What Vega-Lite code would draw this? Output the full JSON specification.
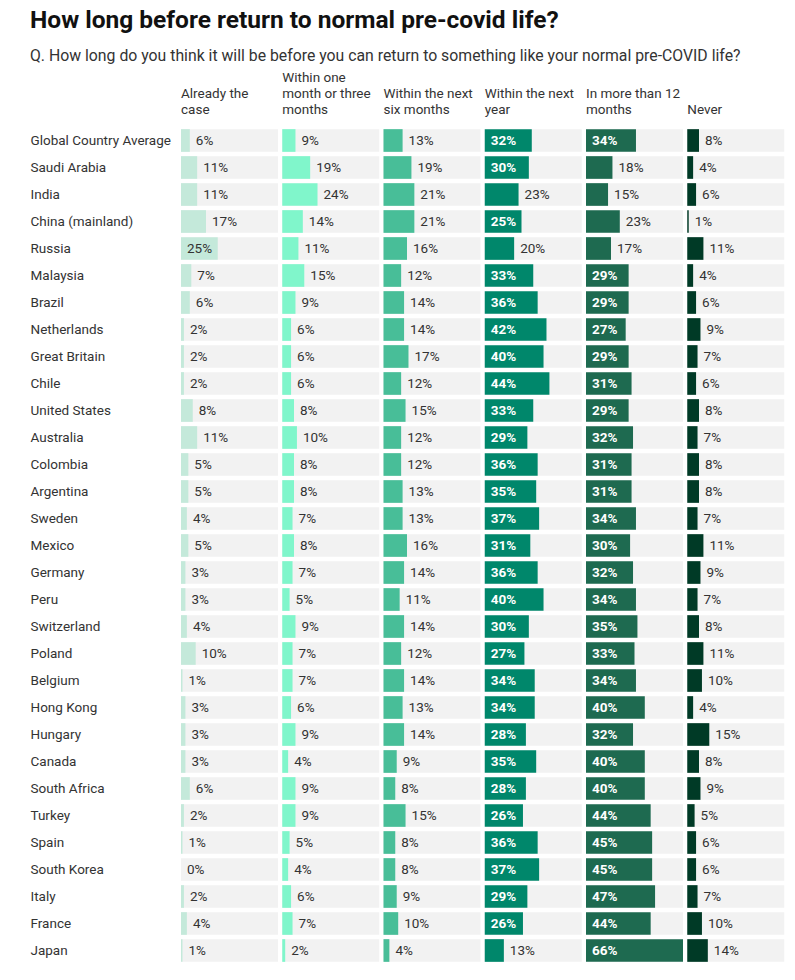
{
  "$schema": "https://vega.github.io/schema/vega-lite/v6.json",
  "padding": {"left": 30, "top": 8, "right": 8, "bottom": 4},
  "background": "white",
  "config": {"font": "Roboto", "view": {"stroke": null}},
  "title": {
    "text": "How long before return to normal pre-covid life?",
    "subtitle": "Q. How long do you think it will be before you can return to something like your normal pre-COVID life?",
    "anchor": "start",
    "fontSize": 24.5,
    "fontWeight": "bold",
    "color": "#111111",
    "subtitleFontSize": 15.8,
    "subtitleColor": "#333333",
    "subtitlePadding": 15,
    "offset": 6
  },
  "datasets": {
    "rows": [
      {"c":"Global Country Average","k":"Already the case","v":6},{"c":"Global Country Average","k":"Within one month or three months","v":9},{"c":"Global Country Average","k":"Within the next six months","v":13},{"c":"Global Country Average","k":"Within the next year","v":32},{"c":"Global Country Average","k":"In more than 12 months","v":34},{"c":"Global Country Average","k":"Never","v":8},
      {"c":"Saudi Arabia","k":"Already the case","v":11},{"c":"Saudi Arabia","k":"Within one month or three months","v":19},{"c":"Saudi Arabia","k":"Within the next six months","v":19},{"c":"Saudi Arabia","k":"Within the next year","v":30},{"c":"Saudi Arabia","k":"In more than 12 months","v":18},{"c":"Saudi Arabia","k":"Never","v":4},
      {"c":"India","k":"Already the case","v":11},{"c":"India","k":"Within one month or three months","v":24},{"c":"India","k":"Within the next six months","v":21},{"c":"India","k":"Within the next year","v":23},{"c":"India","k":"In more than 12 months","v":15},{"c":"India","k":"Never","v":6},
      {"c":"China (mainland)","k":"Already the case","v":17},{"c":"China (mainland)","k":"Within one month or three months","v":14},{"c":"China (mainland)","k":"Within the next six months","v":21},{"c":"China (mainland)","k":"Within the next year","v":25},{"c":"China (mainland)","k":"In more than 12 months","v":23},{"c":"China (mainland)","k":"Never","v":1},
      {"c":"Russia","k":"Already the case","v":25},{"c":"Russia","k":"Within one month or three months","v":11},{"c":"Russia","k":"Within the next six months","v":16},{"c":"Russia","k":"Within the next year","v":20},{"c":"Russia","k":"In more than 12 months","v":17},{"c":"Russia","k":"Never","v":11},
      {"c":"Malaysia","k":"Already the case","v":7},{"c":"Malaysia","k":"Within one month or three months","v":15},{"c":"Malaysia","k":"Within the next six months","v":12},{"c":"Malaysia","k":"Within the next year","v":33},{"c":"Malaysia","k":"In more than 12 months","v":29},{"c":"Malaysia","k":"Never","v":4},
      {"c":"Brazil","k":"Already the case","v":6},{"c":"Brazil","k":"Within one month or three months","v":9},{"c":"Brazil","k":"Within the next six months","v":14},{"c":"Brazil","k":"Within the next year","v":36},{"c":"Brazil","k":"In more than 12 months","v":29},{"c":"Brazil","k":"Never","v":6},
      {"c":"Netherlands","k":"Already the case","v":2},{"c":"Netherlands","k":"Within one month or three months","v":6},{"c":"Netherlands","k":"Within the next six months","v":14},{"c":"Netherlands","k":"Within the next year","v":42},{"c":"Netherlands","k":"In more than 12 months","v":27},{"c":"Netherlands","k":"Never","v":9},
      {"c":"Great Britain","k":"Already the case","v":2},{"c":"Great Britain","k":"Within one month or three months","v":6},{"c":"Great Britain","k":"Within the next six months","v":17},{"c":"Great Britain","k":"Within the next year","v":40},{"c":"Great Britain","k":"In more than 12 months","v":29},{"c":"Great Britain","k":"Never","v":7},
      {"c":"Chile","k":"Already the case","v":2},{"c":"Chile","k":"Within one month or three months","v":6},{"c":"Chile","k":"Within the next six months","v":12},{"c":"Chile","k":"Within the next year","v":44},{"c":"Chile","k":"In more than 12 months","v":31},{"c":"Chile","k":"Never","v":6},
      {"c":"United States","k":"Already the case","v":8},{"c":"United States","k":"Within one month or three months","v":8},{"c":"United States","k":"Within the next six months","v":15},{"c":"United States","k":"Within the next year","v":33},{"c":"United States","k":"In more than 12 months","v":29},{"c":"United States","k":"Never","v":8},
      {"c":"Australia","k":"Already the case","v":11},{"c":"Australia","k":"Within one month or three months","v":10},{"c":"Australia","k":"Within the next six months","v":12},{"c":"Australia","k":"Within the next year","v":29},{"c":"Australia","k":"In more than 12 months","v":32},{"c":"Australia","k":"Never","v":7},
      {"c":"Colombia","k":"Already the case","v":5},{"c":"Colombia","k":"Within one month or three months","v":8},{"c":"Colombia","k":"Within the next six months","v":12},{"c":"Colombia","k":"Within the next year","v":36},{"c":"Colombia","k":"In more than 12 months","v":31},{"c":"Colombia","k":"Never","v":8},
      {"c":"Argentina","k":"Already the case","v":5},{"c":"Argentina","k":"Within one month or three months","v":8},{"c":"Argentina","k":"Within the next six months","v":13},{"c":"Argentina","k":"Within the next year","v":35},{"c":"Argentina","k":"In more than 12 months","v":31},{"c":"Argentina","k":"Never","v":8},
      {"c":"Sweden","k":"Already the case","v":4},{"c":"Sweden","k":"Within one month or three months","v":7},{"c":"Sweden","k":"Within the next six months","v":13},{"c":"Sweden","k":"Within the next year","v":37},{"c":"Sweden","k":"In more than 12 months","v":34},{"c":"Sweden","k":"Never","v":7},
      {"c":"Mexico","k":"Already the case","v":5},{"c":"Mexico","k":"Within one month or three months","v":8},{"c":"Mexico","k":"Within the next six months","v":16},{"c":"Mexico","k":"Within the next year","v":31},{"c":"Mexico","k":"In more than 12 months","v":30},{"c":"Mexico","k":"Never","v":11},
      {"c":"Germany","k":"Already the case","v":3},{"c":"Germany","k":"Within one month or three months","v":7},{"c":"Germany","k":"Within the next six months","v":14},{"c":"Germany","k":"Within the next year","v":36},{"c":"Germany","k":"In more than 12 months","v":32},{"c":"Germany","k":"Never","v":9},
      {"c":"Peru","k":"Already the case","v":3},{"c":"Peru","k":"Within one month or three months","v":5},{"c":"Peru","k":"Within the next six months","v":11},{"c":"Peru","k":"Within the next year","v":40},{"c":"Peru","k":"In more than 12 months","v":34},{"c":"Peru","k":"Never","v":7},
      {"c":"Switzerland","k":"Already the case","v":4},{"c":"Switzerland","k":"Within one month or three months","v":9},{"c":"Switzerland","k":"Within the next six months","v":14},{"c":"Switzerland","k":"Within the next year","v":30},{"c":"Switzerland","k":"In more than 12 months","v":35},{"c":"Switzerland","k":"Never","v":8},
      {"c":"Poland","k":"Already the case","v":10},{"c":"Poland","k":"Within one month or three months","v":7},{"c":"Poland","k":"Within the next six months","v":12},{"c":"Poland","k":"Within the next year","v":27},{"c":"Poland","k":"In more than 12 months","v":33},{"c":"Poland","k":"Never","v":11},
      {"c":"Belgium","k":"Already the case","v":1},{"c":"Belgium","k":"Within one month or three months","v":7},{"c":"Belgium","k":"Within the next six months","v":14},{"c":"Belgium","k":"Within the next year","v":34},{"c":"Belgium","k":"In more than 12 months","v":34},{"c":"Belgium","k":"Never","v":10},
      {"c":"Hong Kong","k":"Already the case","v":3},{"c":"Hong Kong","k":"Within one month or three months","v":6},{"c":"Hong Kong","k":"Within the next six months","v":13},{"c":"Hong Kong","k":"Within the next year","v":34},{"c":"Hong Kong","k":"In more than 12 months","v":40},{"c":"Hong Kong","k":"Never","v":4},
      {"c":"Hungary","k":"Already the case","v":3},{"c":"Hungary","k":"Within one month or three months","v":9},{"c":"Hungary","k":"Within the next six months","v":14},{"c":"Hungary","k":"Within the next year","v":28},{"c":"Hungary","k":"In more than 12 months","v":32},{"c":"Hungary","k":"Never","v":15},
      {"c":"Canada","k":"Already the case","v":3},{"c":"Canada","k":"Within one month or three months","v":4},{"c":"Canada","k":"Within the next six months","v":9},{"c":"Canada","k":"Within the next year","v":35},{"c":"Canada","k":"In more than 12 months","v":40},{"c":"Canada","k":"Never","v":8},
      {"c":"South Africa","k":"Already the case","v":6},{"c":"South Africa","k":"Within one month or three months","v":9},{"c":"South Africa","k":"Within the next six months","v":8},{"c":"South Africa","k":"Within the next year","v":28},{"c":"South Africa","k":"In more than 12 months","v":40},{"c":"South Africa","k":"Never","v":9},
      {"c":"Turkey","k":"Already the case","v":2},{"c":"Turkey","k":"Within one month or three months","v":9},{"c":"Turkey","k":"Within the next six months","v":15},{"c":"Turkey","k":"Within the next year","v":26},{"c":"Turkey","k":"In more than 12 months","v":44},{"c":"Turkey","k":"Never","v":5},
      {"c":"Spain","k":"Already the case","v":1},{"c":"Spain","k":"Within one month or three months","v":5},{"c":"Spain","k":"Within the next six months","v":8},{"c":"Spain","k":"Within the next year","v":36},{"c":"Spain","k":"In more than 12 months","v":45},{"c":"Spain","k":"Never","v":6},
      {"c":"South Korea","k":"Already the case","v":0},{"c":"South Korea","k":"Within one month or three months","v":4},{"c":"South Korea","k":"Within the next six months","v":8},{"c":"South Korea","k":"Within the next year","v":37},{"c":"South Korea","k":"In more than 12 months","v":45},{"c":"South Korea","k":"Never","v":6},
      {"c":"Italy","k":"Already the case","v":2},{"c":"Italy","k":"Within one month or three months","v":6},{"c":"Italy","k":"Within the next six months","v":9},{"c":"Italy","k":"Within the next year","v":29},{"c":"Italy","k":"In more than 12 months","v":47},{"c":"Italy","k":"Never","v":7},
      {"c":"France","k":"Already the case","v":4},{"c":"France","k":"Within one month or three months","v":7},{"c":"France","k":"Within the next six months","v":10},{"c":"France","k":"Within the next year","v":26},{"c":"France","k":"In more than 12 months","v":44},{"c":"France","k":"Never","v":10},
      {"c":"Japan","k":"Already the case","v":1},{"c":"Japan","k":"Within one month or three months","v":2},{"c":"Japan","k":"Within the next six months","v":4},{"c":"Japan","k":"Within the next year","v":13},{"c":"Japan","k":"In more than 12 months","v":66},{"c":"Japan","k":"Never","v":14}
    ]
  },
  "data": {"name": "rows"},
  "transform": [{"calculate": "datum.v + '%'", "as": "label"}],
  "spacing": 4.25,
  "facet": {
    "column": {
      "field": "k",
      "type": "nominal",
      "title": null,
      "sort": ["Already the case", "Within one month or three months", "Within the next six months", "Within the next year", "In more than 12 months", "Never"],
      "header": {
        "labelExpr": "datum.value == 'Already the case' ? ['Already the', 'case'] : datum.value == 'Within one month or three months' ? ['Within one', 'month or three', 'months'] : datum.value == 'Within the next six months' ? ['Within the next', 'six months'] : datum.value == 'Within the next year' ? ['Within the next', 'year'] : datum.value == 'In more than 12 months' ? ['In more than 12', 'months'] : datum.value",
        "labelAlign": "left",
        "labelAnchor": "start",
        "labelBaseline": "middle",
        "labelFontSize": 13.5,
        "labelColor": "#333333",
        "labelLineHeight": 16,
        "labelPadding": 4
      }
    }
  },
  "spec": {
    "width": 97,
    "height": {"step": 27},
    "encoding": {
      "y": {
        "field": "c",
        "type": "nominal",
        "sort": null,
        "scale": {"paddingInner": 0.16, "paddingOuter": 0.08},
        "axis": {
          "title": null,
          "ticks": false,
          "domain": false,
          "labelAlign": "left",
          "labelPadding": 151,
          "labelFontSize": 13.5,
          "labelColor": "#333333",
          "labelLimit": 200
        }
      }
    },
    "layer": [
      {
        "mark": {"type": "bar", "color": "#f2f2f2"},
        "encoding": {
          "x": {"datum": 66, "type": "quantitative", "scale": {"domain": [0, 66], "nice": false}, "axis": null}
        }
      },
      {
        "mark": {"type": "bar"},
        "encoding": {
          "x": {"field": "v", "type": "quantitative"},
          "color": {
            "field": "k",
            "type": "nominal",
            "scale": {
              "domain": ["Already the case", "Within one month or three months", "Within the next six months", "Within the next year", "In more than 12 months", "Never"],
              "range": ["#c4e9da", "#80f6cb", "#48be98", "#00876b", "#1e6a50", "#003a26"]
            },
            "legend": null
          }
        }
      },
      {
        "transform": [{"filter": "datum.v < 25"}],
        "mark": {"type": "text", "align": "left", "dx": 6, "fontSize": 13.5, "color": "#333333"},
        "encoding": {
          "x": {"field": "v", "type": "quantitative"},
          "text": {"field": "label"}
        }
      },
      {
        "transform": [{"filter": "datum.v >= 25 && datum.k == 'Already the case'"}],
        "mark": {"type": "text", "align": "left", "dx": 6, "fontSize": 13.5, "color": "#333333"},
        "encoding": {
          "x": {"datum": 0, "type": "quantitative"},
          "text": {"field": "label"}
        }
      },
      {
        "transform": [{"filter": "datum.v >= 25 && datum.k != 'Already the case'"}],
        "mark": {"type": "text", "align": "left", "dx": 6, "fontSize": 13.5, "fontWeight": "bold", "color": "white"},
        "encoding": {
          "x": {"datum": 0, "type": "quantitative"},
          "text": {"field": "label"}
        }
      }
    ]
  }
}
